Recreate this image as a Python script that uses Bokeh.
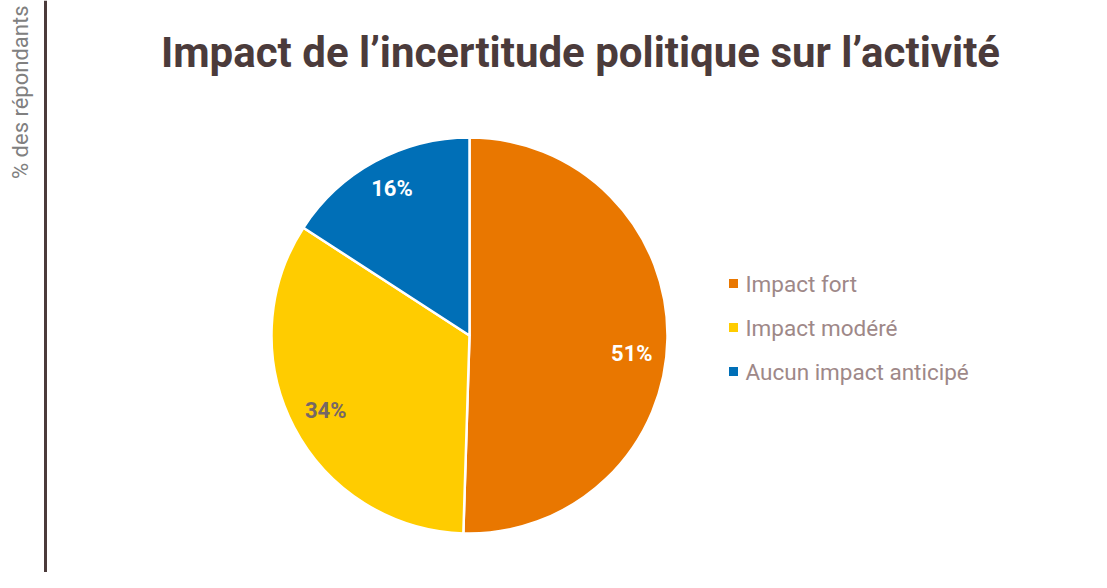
import math
from bokeh.plotting import figure
from bokeh.models import Range1d, Span, ColumnDataSource
from bokeh.core.properties import value
from bokeh.embed import file_html
from bokeh.resources import INLINE

# ---- data ----
title = "Impact de l\u2019incertitude politique sur l\u2019activit\u00e9"
axis_label = "% des r\u00e9pondants"
categories = ["Impact fort", "Impact mod\u00e9r\u00e9", "Aucun impact anticip\u00e9"]
values = [51, 34, 16]
colors = ["#E97700", "#FFCC00", "#006FB7"]
label_colors = ["#FFFFFF", "#766766", "#FFFFFF"]

W, H = 1091, 572
p = figure(width=W, height=H, output_backend="svg", toolbar_location=None,
           x_range=Range1d(0, W), y_range=Range1d(0, H),
           min_border=0, outline_line_color=None)
p.axis.visible = False
p.grid.visible = False
p.background_fill_color = "white"
p.border_fill_color = "white"

# pie geometry (layout)
cx, cy, R = 469, H - 335, 198
label_shift = [-15, 0, 4]  # small vertical nudges of the labels (px)
total = sum(values)
starts, ends, lx, ly, texts = [], [], [], [], []
cum = 0.0
for i, v in enumerate(values):
    a0 = math.pi / 2 - 2 * math.pi * cum / total
    cum += v
    a1 = math.pi / 2 - 2 * math.pi * cum / total
    starts.append(a0)
    ends.append(a1)
    mid = (a0 + a1) / 2
    lx.append(cx + 0.82 * R * math.cos(mid))
    ly.append(cy + 0.82 * R * math.sin(mid) + label_shift[i])
    texts.append(f"{v}%")

src = ColumnDataSource(dict(start=starts, end=ends, color=colors,
                            lx=lx, ly=ly, text=texts, tcolor=label_colors))
p.wedge(x=cx, y=cy, radius=R, start_angle="start", end_angle="end",
        direction="clock", fill_color="color", line_color="white",
        line_width=2.5, source=src)
p.text(x="lx", y="ly", text="text", text_color="tcolor", source=src,
       text_font=value("Roboto"), text_font_style="bold",
       text_font_size="22px", text_align="center", text_baseline="middle")

# legend (manual)
leg_y = [H - 283 - i * 44 for i in range(len(categories))]
leg = ColumnDataSource(dict(x=[733] * 3, y=leg_y, c=colors, t=categories,
                            tx=[745] * 3))
p.scatter(x="x", y="y", marker="square", size=9, fill_color="c",
          line_color=None, source=leg)
p.text(x="tx", y="y", text="t", source=leg, text_color="#9E8888",
       text_font=value("Roboto"), text_font_size="22.5px",
       text_align="left", text_baseline="middle")

# title
p.text(x=[580], y=[H - 52], text=[title], text_color="#4B3B3B",
       text_font=value("Roboto"), text_font_style="bold",
       text_font_size="42px", text_align="center", text_baseline="middle")

# left axis line + label
p.add_layout(Span(location=45, dimension="height", line_color="#4B3B3B",
                  line_width=3))
p.text(x=[20], y=[H - 5], text=[axis_label], angle=math.pi / 2,
       text_color="#808080", text_font=value("Roboto"),
       text_font_style="normal", text_font_size="22px",
       text_align="right", text_baseline="middle")

open("out.html", "w").write(file_html(p, INLINE))
